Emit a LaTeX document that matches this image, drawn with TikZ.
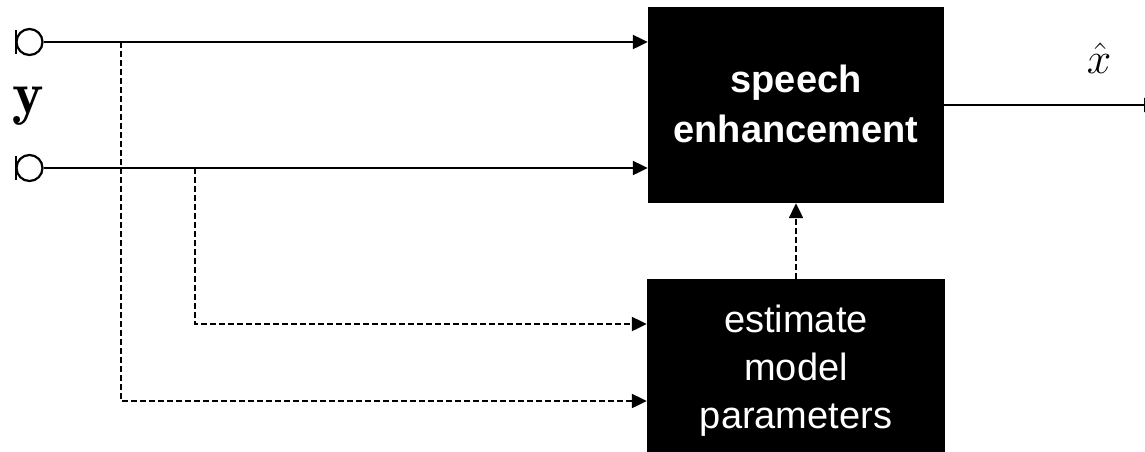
\documentclass[tikz,border=0pt]{standalone}
\usepackage{graphicx}
\usepackage{fontspec}
\newfontfamily\boxfont{Liberation Sans}
\usetikzlibrary{arrows.meta}
\newcommand{\bigmath}[2][1.77]{\scalebox{#1}{\Huge$#2$}}
\begin{document}
\begin{tikzpicture}[x=1pt,y=-1pt,
  wire/.style={line width=2.2pt},
  dwire/.style={line width=2.2pt, dash pattern=on 6pt off 3pt},
  tip/.style={-{Triangle[length=15pt,width=14pt]}},
  blk/.style={fill=black, draw=none, inner sep=0pt},
  blktext/.style={text=white, align=center, font=\boxfont\fontsize{38}{50}\selectfont},
  mathlbl/.style={inner sep=0pt, anchor=base}]
\useasboundingbox (0,0) rectangle (1145,451);
\clip (0,0) rectangle (1145,451);

% processing blocks
\node[blk, minimum width=296pt, minimum height=196pt] (enh) at (796,105) {};
\node[blktext, font=\boxfont\bfseries\fontsize{38}{50}\selectfont] (enhtxt) at (796,104) {speech\\enhancement};
\node[blk, minimum width=298pt, minimum height=174pt] (est) at (796,366) {};
\node[blktext, font=\boxfont\fontsize{38}{48}\selectfont] (esttxt) at (796,371) {estimate\\model\\parameters};

% microphone inputs
\foreach \n/\yy in {m1/42, m2/168} {
  \node[circle, draw, line width=2.2pt, minimum size=26pt, inner sep=0pt] (\n) at (29.5,\yy) {};
  \draw[wire] (16,\yy-12) -- (16,\yy+12);
}
\node[mathlbl] (ylbl) at (28,113) {\bigmath[2.4]{\mathbf{y}}};

% taps for the parameter estimator
\coordinate (t1) at (121,42);
\coordinate (t2) at (195,168);

% signal paths
\draw[wire, tip] (m1.east) -- (enh.west |- m1);
\draw[wire, tip] (m2.east) -- (enh.west |- m2);
\draw[dwire, tip] (t2) |- (est.west |- 0,324);
\draw[dwire, tip] (t1) |- (est.west |- 0,401);
\draw[dwire, tip] (est.north) -- (enh.south);

% output
\coordinate (out) at (1159,105);
\draw[wire, tip] (enh.east) -- (out);
\node[mathlbl] (xlbl) at (1099,73) {\bigmath{\hat{x}}};
\end{tikzpicture}
\end{document}
